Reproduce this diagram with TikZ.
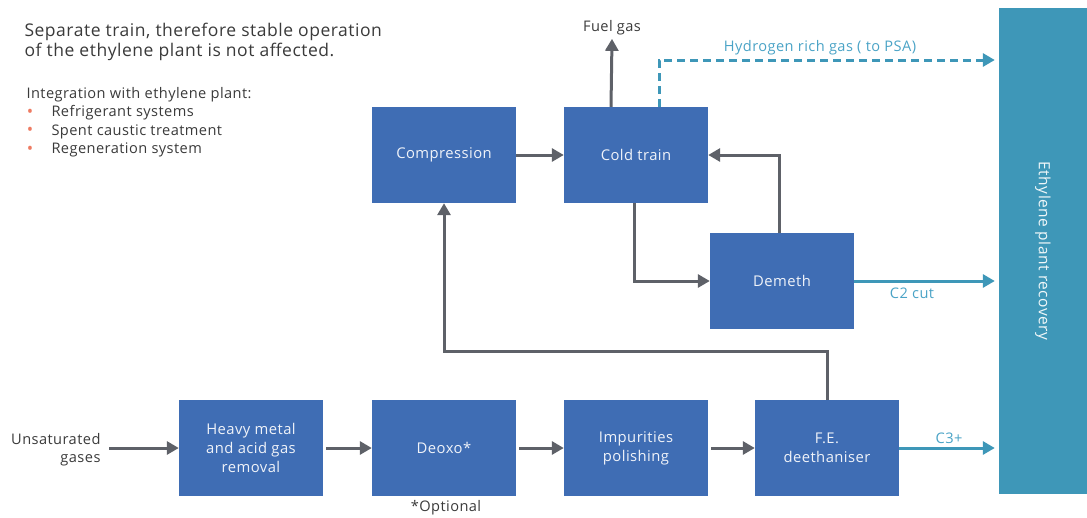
\documentclass[tikz,border=0pt]{standalone}
\usepackage{fontspec}
\setmainfont{Open Sans}[LetterSpace=3.0]
\usetikzlibrary{arrows.meta,calc}

\definecolor{boxblue}{HTML}{3F6DB4}
\definecolor{recteal}{HTML}{3E97B8}
\definecolor{tealtext}{HTML}{4AA3C6}
\definecolor{flowgray}{HTML}{5E6168}
\definecolor{textgray}{HTML}{3A3A3A}
\definecolor{bulletred}{HTML}{EE7B62}

\tikzset {
  unit box/.style = {
    fill=boxblue,
    draw=none,
    minimum width=144pt,
    minimum height=96pt,
    text=white!92!boxblue,
    align=center,
    font=\fontsize{14.8}{19}\selectfont
  },
  flow/.style = {
    -{Triangle[length=12pt,width=13pt]},
    line width=3pt,
    draw=flowgray
  },
  product/.style = {
    -{Triangle[length=12pt,width=13pt]},
    line width=3pt,
    draw=recteal
  },
  label text/.style = {
    text=textgray,
    font=\fontsize{14.6}{18}\selectfont
  },
  product text/.style = {
    text=tealtext,
    font=\fontsize{14.6}{18}\selectfont
  }
}

\begin{document}
\begin{tikzpicture}[x=1pt,y=-1pt]

\useasboundingbox (0,0) rectangle (1087,517);

% --- Notes ---
\node[anchor=west, text=textgray, align=left, font=\fontsize{17.5}{20.5}\selectfont]
  (note) at (21,42) {Separate train, therefore stable operation\\of the ethylene plant is not affected.};
\node[anchor=west, label text] (integ) at (23,95) {Integration with ethylene plant:};
\foreach \item [count=\i] in {Refrigerant systems, Spent caustic treatment, Regeneration system} {
  \node[text=bulletred, font=\fontsize{17}{18}\selectfont] (bul\i) at (30,{94.5+18.5*\i}) {\textbullet};
  \node[anchor=west, label text] (item\i) at (48,{94.5+18.5*\i}) {\item};
}

% --- Recovery ---
\node[fill=recteal, minimum width=88pt, minimum height=486pt] (recovery) at (1043,251) {};
\node[rotate=-90, text=white!92!recteal, font=\fontsize{15.5}{18}\selectfont] (reclabel) at (recovery) {Ethylene plant recovery};

% --- Units ---
\node[unit box] (hmrem)   at (251,448) {Heavy metal\\and acid gas\\removal};
\node[unit box] (deoxo)   at (444,448) {Deoxo*};
\node[unit box] (impol)   at (636,448) {Impurities\\polishing};
\node[unit box] (fedeeth) at (827,448) {F.E.\\deethaniser};
\node[unit box] (compr)   at (444,155) {Compression};
\node[unit box] (cold)    at (636,155) {Cold train};
\node[unit box] (demeth)  at (782,281) {Demeth};

% --- Labels ---
\node[anchor=east, align=right, label text] (unsat) at (104,450) {Unsaturated\\gases};
\node[label text, inner sep=1pt] (optional) at (446,508) {*Optional};
\node[label text] (fuel) at (612,28) {Fuel gas};
\node[product text] (h2label) at (820,48) {Hydrogen rich gas ( to PSA)};
\coordinate (h2end) at (recovery.west |- 0,60);

% --- Main line ---
\draw[flow, shorten <=5pt] (unsat.east |- hmrem.west) -- (hmrem.west);
\draw[flow, shorten <=3pt] (hmrem.east) -- (deoxo.west);
\draw[flow, shorten <=3pt] (deoxo.east) -- (impol.west);
\draw[flow, shorten <=3pt] (impol.east) -- (fedeeth.west);

% --- Recycle and cold section ---
\draw[flow] (fedeeth.north) -- ++(0,-48) -| (compr.south);
\draw[flow] (compr.east) -- (cold.west);
\draw[flow] ([xshift=-2pt]cold.south) |- (demeth.west);
\draw[flow] ([xshift=-3pt]demeth.north) |- (cold.east);
\draw[flow] ([xshift=-25pt]cold.north) -- (fuel.south);

% --- Products ---
\draw[product, dashed, dash pattern=on 8pt off 5pt] ([xshift=23pt]cold.north) |- ([xshift=-4pt]h2end);
\draw[product, shorten >=4pt] (demeth.east) -- (demeth.east -| recovery.west)
  node[pos=0.4, below, yshift=-2pt, product text] (c2) {C2 cut};
\draw[product, shorten >=4pt] (fedeeth.east) -- (fedeeth.east -| recovery.west)
  node[midway, above, product text] (c3) {C3+};

\end{tikzpicture}
\end{document}
